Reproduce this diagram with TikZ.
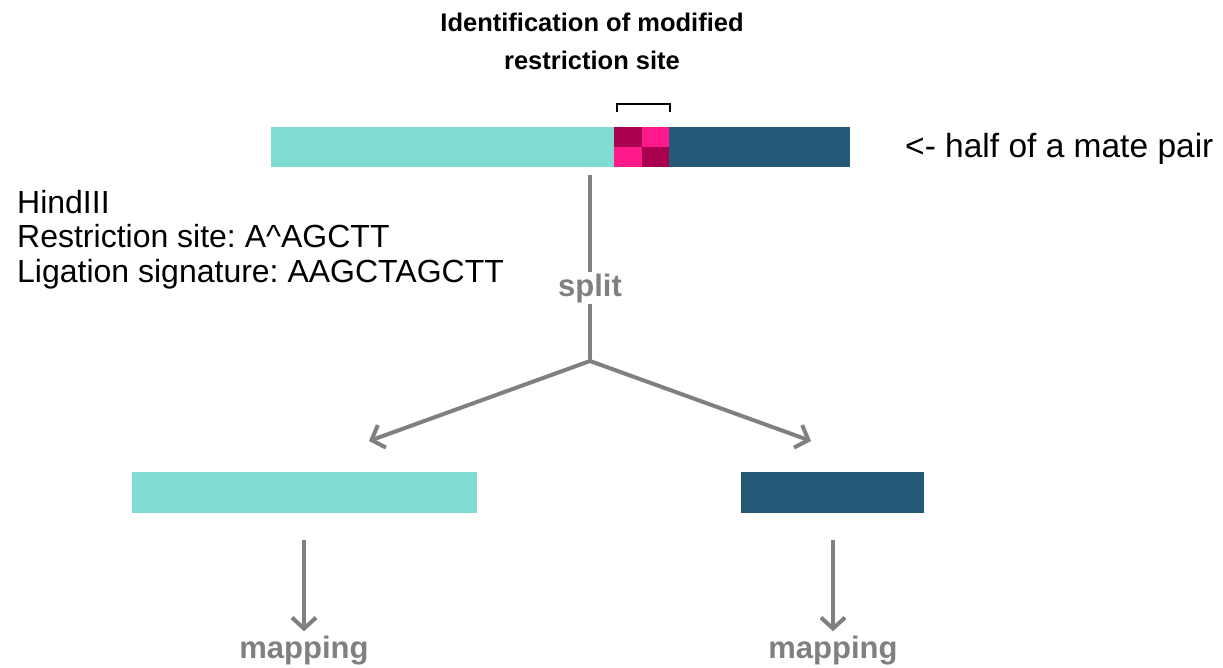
\documentclass[tikz,border=0pt]{standalone}
\usepackage{fontspec}
\setmainfont{Liberation Sans}
\usetikzlibrary{arrows.meta}
\frenchspacing
\definecolor{cyanbar}{HTML}{80DBD3}
\definecolor{darkbar}{HTML}{245A78}
\definecolor{pinkA}{HTML}{A8004F}
\definecolor{pinkB}{HTML}{FF1A8C}
\definecolor{greyline}{HTML}{808080}
\tikzset{
  bar/.style={draw=none,inner sep=0pt,outer sep=0pt},
  conn/.style={draw=greyline,line width=4pt},
  arr/.style={conn,-{Straight Barb[length=11pt,width=24pt,line width=4pt]}},
  glabel/.style={text=greyline,font=\bfseries\fontsize{31}{36}\selectfont,inner sep=1pt},
  txt/.style={font=\fontsize{32}{34.5}\selectfont,inner sep=0pt}
}
\begin{document}
\begin{tikzpicture}[x=1pt,y=-1pt]
\useasboundingbox[fill=white] (0,0) rectangle (1223,667);
% top bar
\node[bar,fill=cyanbar,minimum width=343pt,minimum height=40pt,anchor=north west] (topcyan) at (271,127) {};
\node[bar,fill=darkbar,minimum width=181pt,minimum height=40pt,anchor=north west] (topdark) at (669,127) {};
\node[bar,fill=pinkA,minimum width=27.5pt,minimum height=20pt,anchor=north west] (p1) at (614,127) {};
\node[bar,fill=pinkB,minimum width=27.5pt,minimum height=20pt,anchor=north west] (p2) at (641.5,127) {};
\node[bar,fill=pinkB,minimum width=27.5pt,minimum height=20pt,anchor=north west] (p3) at (614,147) {};
\node[bar,fill=pinkA,minimum width=27.5pt,minimum height=20pt,anchor=north west] (p4) at (641.5,147) {};
% bracket
\draw[line width=2pt,black] (617,112) -- (617,104) -- (670,104) -- (670,112);
% title
\node[font=\bfseries\fontsize{25.5}{38}\selectfont,align=center] (title) at (592,41) {Identification of modified\\restriction site};
\node[txt,font=\fontsize{33.5}{36}\selectfont,anchor=west] (mate) at (905,149) {<- half of a mate pair};
% info text
\node[txt,anchor=north west,align=left] (info) at (17,190) {HindIII\\Restriction site: A\^{}AGCTT\\Ligation signature: AAGCTAGCTT};
% split
\coordinate (s0) at (590,175);
\node[glabel] (split) at (590,288) {split};
\coordinate (fork) at (590,361);
\draw[conn] (s0) -- (split.north);
\draw[conn] (split.south) -- (fork);
% bottom bars
\node[bar,fill=cyanbar,minimum width=345pt,minimum height=41pt,anchor=north west] (bl) at (132,472) {};
\node[bar,fill=darkbar,minimum width=183pt,minimum height=41pt,anchor=north west] (br) at (741,472) {};
\coordinate (la) at (369,441);
\coordinate (ra) at (811,441);
\draw[arr] (fork) -- (la);
\draw[arr] (fork) -- (ra);
% mapping
\node[glabel] (mapl) at (304,651) {mapping};
\node[glabel] (mapr) at (833,651) {mapping};
\coordinate (al) at (304,540);
\coordinate (ar) at (833,540);
\draw[arr,shorten >=4pt] (al) -- (mapl.north);
\draw[arr,shorten >=4pt] (ar) -- (mapr.north);
\end{tikzpicture}
\end{document}
